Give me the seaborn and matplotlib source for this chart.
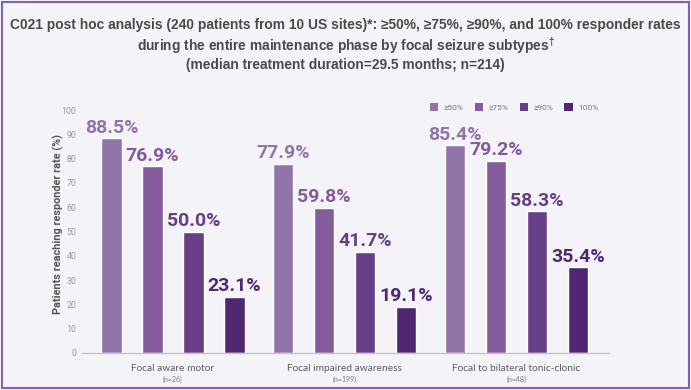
import pandas as pd
import numpy as np
import matplotlib.pyplot as plt
import matplotlib as mpl
import seaborn as sns
from matplotlib.patches import Patch, Rectangle

# data
subtypes = ['Focal aware motor', 'Focal impaired awareness', 'Focal to bilateral tonic-clonic']
n_labels = ['(n=26)', '(n=199)', '(n=48)']
thresholds = ['≥50%', '≥75%', '≥90%', '100%']
rates_aware_motor = [88.5, 76.9, 50.0, 23.1]
rates_impaired = [77.9, 59.8, 41.7, 19.1]
rates_fbtc = [85.4, 79.2, 58.3, 35.4]
yticks = [0, 10, 20, 30, 40, 50, 60, 70, 80, 90, 100]

title = ('C021 post hoc analysis (240 patients from 10 US sites)*: ≥50%, ≥75%, ≥90%, and 100% responder rates\n'
         'during the entire maintenance phase by focal seizure subtypes$^{\\dagger}$\n'
         '(median treatment duration=29.5 months; n=214)')
ylabel = 'Patients reaching responder rate (%)'

colors = ['#9175a9', '#845b9b', '#663f88', '#4f2773']
bg = '#f4f3f8'

rows = []
for name, vals in zip(subtypes, [rates_aware_motor, rates_impaired, rates_fbtc]):
    for t, v in zip(thresholds, vals):
        rows.append({'subtype': name, 'threshold': t, 'rate': v})
df = pd.DataFrame(rows)

sns.set_style('white')
plt.rcParams['font.family'] = ['Roboto', 'DejaVu Sans']
plt.rcParams['mathtext.fontset'] = 'custom'
plt.rcParams['mathtext.rm'] = 'Liberation Sans'
plt.rcParams['mathtext.default'] = 'regular'

fig = plt.figure(figsize=(6.91, 3.90), dpi=100, facecolor=bg)
ax = fig.add_axes([82 / 691, 37 / 390, 527 / 691, 243 / 390], facecolor=bg)

sns.barplot(data=df, x='subtype', y='rate', hue='threshold', hue_order=thresholds,
            palette=colors, width=0.956, gap=0.5, saturation=1, legend=False, ax=ax)

# value labels above each bar
for cont, col in zip(ax.containers, colors):
    ax.bar_label(cont, labels=[f'{b.get_height():.1f}%' for b in cont],
                 padding=1, color=col, fontsize=14, fontweight='bold')

ax.set_xlim(-0.53, 2.54)
ax.set_ylim(0, 100)
ax.set_yticks(yticks)
ax.tick_params(axis='y', length=0, pad=4, labelsize=6.3, labelcolor='#999999')
ax.set_xticks(range(len(subtypes)))
ax.set_xticklabels(subtypes, fontsize=7.3, color='#5e5e5e', family=['Lato', 'DejaVu Sans'])
ax.tick_params(axis='x', length=0, pad=8)
ax.set_xticks([0.5, 1.5, 2.54], minor=True)
ax.tick_params(axis='x', which='minor', length=3, color='#bbbbbb', width=0.8)
ax.set_xlabel('')
ax.set_ylabel('')
for s in ['top', 'right', 'left']:
    ax.spines[s].set_visible(False)
ax.spines['bottom'].set_color('#c4c4c4')
ax.spines['bottom'].set_linewidth(1)

for i, n in enumerate(n_labels):
    ax.text(i, -10.8, n, ha='center', va='center', fontsize=5, color='#777777',
            family=['Lato', 'DejaVu Sans'])

fig.text(58 / 691, 1 - 224 / 390, ylabel, rotation=90, ha='center', va='center',
         fontsize=7.8, fontweight='bold', color='#555555')

fig.text(0.5, 1 - 45 / 390, title, ha='center', va='center', fontsize=9.9,
         fontweight='bold', color='#4a4a4a', linespacing=1.22,
         family=['Liberation Sans', 'DejaVu Sans'])

handles = [Patch(facecolor=c, edgecolor='none', label=t) for c, t in zip(colors, thresholds)]
fig.legend(handles=handles, loc='center', bbox_to_anchor=(514 / 691, 1 - 107 / 390),
           ncol=4, frameon=False, fontsize=6, labelcolor='#777777',
           handlelength=1.0, handleheight=1.0, handletextpad=0.6, columnspacing=1.4)

# purple frame around the slide
fig.patches.append(Rectangle((2 / 691, 2 / 390), 687 / 691, 386 / 390, transform=fig.transFigure,
                             fill=False, edgecolor='#7c62b8', linewidth=1.5))

fig.savefig('out.png', dpi=100, facecolor=bg)
